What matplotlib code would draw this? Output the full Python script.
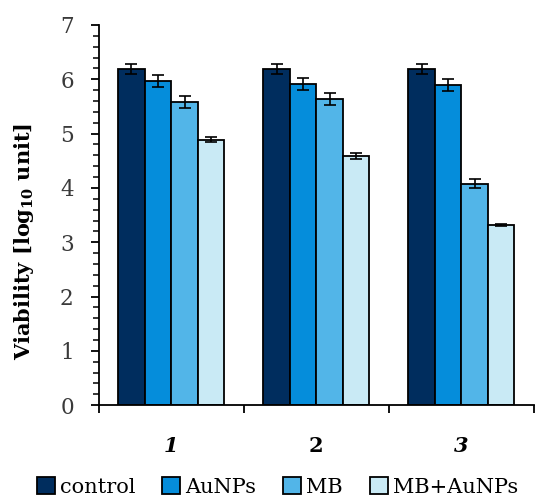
import matplotlib
matplotlib.use("Agg")
import matplotlib.pyplot as plt
import numpy as np
from matplotlib.ticker import MultipleLocator, FixedLocator

plt.rcParams['font.family'] = ['DejaVu Serif']
plt.rcParams['mathtext.fontset'] = 'dejavuserif'

groups = ["1", "2", "3"]
series = ["control", "AuNPs", "MB", "MB+AuNPs"]
colors = ["#002D5E", "#058DDB", "#52B5E8", "#C9EAF5"]

# viability per group, one list per series
control = [6.19, 6.19, 6.19]
aunps = [5.97, 5.91, 5.89]
mb = [5.59, 5.63, 4.08]
mb_aunps = [4.89, 4.59, 3.31]
values = [control, aunps, mb, mb_aunps]

control_err = [0.09, 0.09, 0.09]
aunps_err = [0.11, 0.11, 0.11]
mb_err = [0.11, 0.11, 0.09]
mb_aunps_err = [0.05, 0.05, 0.02]
errors = [control_err, aunps_err, mb_err, mb_aunps_err]

fig = plt.figure(figsize=(5.55, 4.99), dpi=100)
ax = fig.add_axes([0.178, 0.188, 0.784, 0.762])

x = np.arange(len(groups))
width = 0.183
for i, (name, vals, errs, c) in enumerate(zip(series, values, errors, colors)):
    pos = x + (i - 1.5) * width
    ax.bar(pos, vals, width, color=c, edgecolor="black", linewidth=1.3, label=name, zorder=2)
    ax.errorbar(pos, vals, yerr=errs, fmt="none", ecolor="black", elinewidth=1.2,
                capsize=4.5, capthick=1.2, zorder=3)

ax.set_xlim(-0.5, 2.5)
ax.set_ylim(0, 7)
ax.yaxis.set_major_locator(MultipleLocator(1))
ax.yaxis.set_minor_locator(MultipleLocator(0.2))
ax.tick_params(axis="y", which="major", direction="out", length=6, width=1.3,
               labelsize=15.5, labelcolor="#3a3a3a", pad=12)
ax.tick_params(axis="y", which="minor", direction="out", length=4, width=1.1)

# group labels in the middle, boundary ticks between groups
ax.set_xticks(x)
ax.set_xticklabels(groups)
ax.tick_params(axis="x", which="major", length=0, pad=22, labelsize=15)
for lbl, st in zip(ax.get_xticklabels(), ["italic", "normal", "italic"]):
    lbl.set_fontweight("bold")
    lbl.set_fontstyle(st)
ax.xaxis.set_minor_locator(FixedLocator([-0.5, 0.5, 1.5, 2.5]))
ax.tick_params(axis="x", which="minor", direction="out", length=6, width=1.3)

for s in ["top", "right"]:
    ax.spines[s].set_visible(False)
for s in ["left", "bottom"]:
    ax.spines[s].set_linewidth(1.3)

ax.set_ylabel("Viability [log$_{\\mathbf{10}}$ unit]", fontsize=15, fontweight="bold")
ax.yaxis.set_label_coords(-0.145, 0.43)

ax.legend(loc="center", bbox_to_anchor=(0.411, -0.215), ncol=4, frameon=False,
          fontsize=15, handlelength=0.85, handleheight=0.85, handletextpad=0.25,
          columnspacing=1.3, borderaxespad=0)

fig.savefig("out.png", dpi=100)
